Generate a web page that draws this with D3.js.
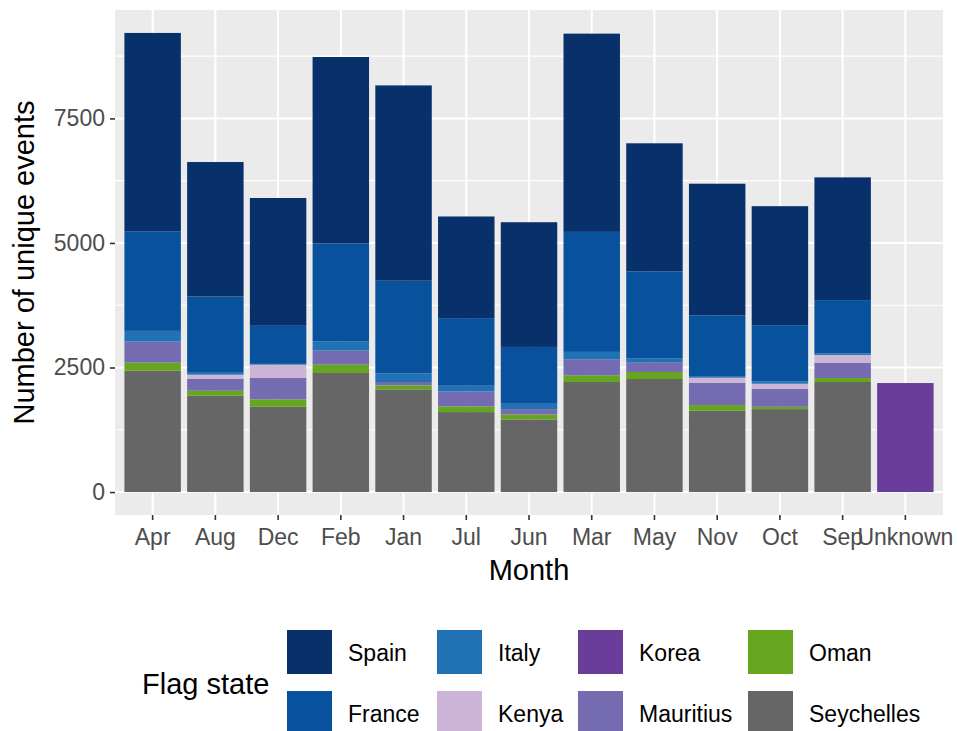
<!DOCTYPE html>
<html>
<head>
<meta charset="utf-8">
<script src="https://cdn.jsdelivr.net/npm/d3@7"></script>
<style>
body { margin: 0; background: #fff; }
text { font-family: "Liberation Sans", Arial, sans-serif; }
</style>
</head>
<body>
<svg width="958" height="731"></svg>
<script>
// values (events per flag state, per month)
var months = ["Apr","Aug","Dec","Feb","Jan","Jul","Jun","Mar","May","Nov","Oct","Sep","Unknown"];
var seychelles = [2436,1933,1711,2390,2062,1605,1458,2209,2269,1631,1665,2209,0];
var oman       = [161,100,149,167,80,114,100,134,141,115,46,80,0];
var mauritius  = [423,242,429,282,67,302,107,323,187,448,363,308,0];
var korea      = [0,0,0,0,0,0,0,0,0,0,0,0,2188];
var kenya      = [0,81,268,0,0,0,0,0,0,101,100,155,0];
var italy      = [215,54,15,189,175,113,107,147,81,20,49,34,0];
var france     = [2000,1516,765,1959,1858,1357,1141,2409,1751,1228,1127,1067,0];
var spain      = [3980,2698,2565,3745,3920,2040,2503,3979,2571,2646,2388,2463,0];
var yTicks = [0,2500,5000,7500];

// legend order (column wise) and colours
var legendOrder = ["Spain","France","Italy","Kenya","Korea","Mauritius","Oman","Seychelles"];
var colors = {Spain:"#08306b", France:"#08519c", Italy:"#2171b5", Kenya:"#cbb4d6",
              Korea:"#6a3d9a", Mauritius:"#756bb1", Oman:"#66a61e", Seychelles:"#666666"};
var series = {Spain:spain, France:france, Italy:italy, Kenya:kenya, Korea:korea,
              Mauritius:mauritius, Oman:oman, Seychelles:seychelles};

var svg = d3.select("svg");
var pLeft = 115, pRight = 943, pTop = 10, pBottom = 515;

var rows = months.map(function(m, i) {
  var r = {month: m};
  legendOrder.forEach(function(k) { r[k] = series[k][i]; });
  return r;
});
var stackKeys = legendOrder.slice().reverse(); // bottom to top
var stacked = d3.stack().keys(stackKeys)(rows);

var maxTotal = d3.max(rows, function(r) { return d3.sum(legendOrder, function(k) { return r[k]; }); });
var pad = maxTotal * 0.05;

var x = d3.scaleBand().domain(months).range([pLeft, pRight]).paddingInner(0.1).paddingOuter(0.15);
var y = d3.scaleLinear().domain([-pad, maxTotal + pad]).range([pBottom, pTop]);

// panel
svg.append("rect").attr("x", pLeft).attr("y", pTop).attr("width", pRight - pLeft).attr("height", pBottom - pTop)
  .style("fill", "#ebebeb");

var minor = d3.range(1250, maxTotal + pad, 2500);
svg.append("g").selectAll("line").data(minor).enter().append("line")
  .attr("x1", pLeft).attr("x2", pRight).attr("y1", function(d) { return y(d); }).attr("y2", function(d) { return y(d); })
  .style("stroke", "#fff").style("stroke-width", 1.1);
svg.append("g").selectAll("line").data(yTicks).enter().append("line")
  .attr("x1", pLeft).attr("x2", pRight).attr("y1", function(d) { return y(d); }).attr("y2", function(d) { return y(d); })
  .style("stroke", "#fff").style("stroke-width", 2);
svg.append("g").selectAll("line").data(months).enter().append("line")
  .attr("x1", function(d) { return x(d) + x.bandwidth() / 2; }).attr("x2", function(d) { return x(d) + x.bandwidth() / 2; })
  .attr("y1", pTop).attr("y2", pBottom)
  .style("stroke", "#fff").style("stroke-width", 2);

// bars
svg.append("g").selectAll("g").data(stacked).enter().append("g")
  .style("fill", function(d) { return colors[d.key]; })
  .selectAll("rect").data(function(d) { return d; }).enter().append("rect")
  .attr("x", function(d) { return x(d.data.month); })
  .attr("width", x.bandwidth())
  .attr("y", function(d) { return y(d[1]); })
  .attr("height", function(d) { return y(d[0]) - y(d[1]); });

// axes
var yAxis = svg.append("g").attr("transform", "translate(" + pLeft + ",0)")
  .call(d3.axisLeft(y).tickValues(yTicks).tickFormat(d3.format("d")).tickSize(5).tickPadding(5));
var xAxis = svg.append("g").attr("transform", "translate(0," + pBottom + ")")
  .call(d3.axisBottom(x).tickSize(5).tickPadding(9));
[xAxis, yAxis].forEach(function(a) {
  a.select(".domain").remove();
  a.selectAll(".tick line").style("stroke", "#333").style("stroke-width", 1.6);
  a.selectAll(".tick text").style("fill", "#4d4d4d").style("font-size", "23px")
    .style("font-family", "'Liberation Sans', Arial, sans-serif");
});

svg.append("text").attr("x", (pLeft + pRight) / 2).attr("y", 580).attr("text-anchor", "middle")
  .style("font-size", "29px").text("Month");
svg.append("text").attr("transform", "translate(34," + (pTop + pBottom) / 2 + ") rotate(-90)")
  .attr("text-anchor", "middle").style("font-size", "29px").text("Number of unique events");

// legend
svg.append("text").attr("x", 142).attr("y", 694).style("font-size", "29px").text("Flag state");
var colX = [287, 437, 578, 748];
var rowY = [630, 691];
legendOrder.forEach(function(k, i) {
  var cx = colX[Math.floor(i / 2)], cy = rowY[i % 2];
  svg.append("rect").attr("x", cx).attr("y", cy).attr("width", 45).attr("height", 44).style("fill", colors[k]);
  svg.append("text").attr("x", cx + 61).attr("y", cy + 31).style("font-size", "23px").text(k);
});
</script>
</body>
</html>
